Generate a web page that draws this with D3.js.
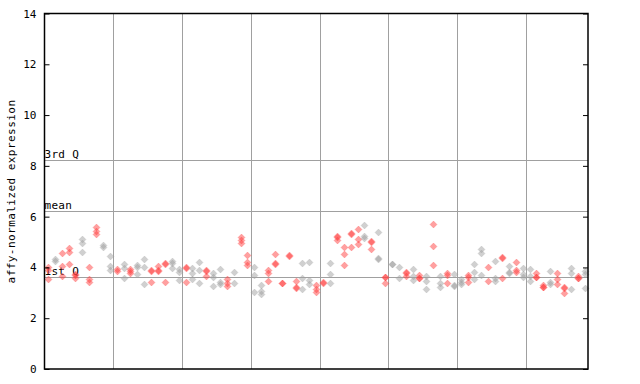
<!DOCTYPE html>
<html><head><meta charset="utf-8">
<script src="https://cdn.jsdelivr.net/npm/d3@7"></script>
<style>body{margin:0;background:#fff}svg{display:block}text{font-family:"DejaVu Sans Mono",monospace}</style>
</head><body><svg id="c" width="640" height="384"></svg>
<script>
// expression values per sample (replicates)
const values = [
[4.03,3.88,3.54],[4.35,4.25],[4.56,4.06,3.67],[4.76,4.6,4.14],[3.74,3.72,3.58],
[5.11,4.96,4.6],[4.01,3.54,3.44],[5.61,5.42,5.32],[4.89,4.8],[4.46,4.07,3.9],
[3.93,3.87],[4.14,3.98,3.58],[3.93,3.85,3.77],[4.1,4.01,3.74],[4.34,4.01,3.34],
[3.9,3.86,3.43],[4.06,3.88,3.86],[4.16,4.12,3.43],[4.27,4.17,3.97],[3.95,3.83,3.51],
[4.0,3.98,3.42],[3.98,3.78,3.54],[4.2,3.9,3.38],[3.9,3.86,3.68],[3.8,3.61,3.27],
[3.93,3.44,3.35],[3.54,3.38,3.27],[3.81,3.4],[5.19,5.09,4.98],[4.5,4.21,4.1],
[4.01,3.7,3.02],[3.31,3.09,2.96],[3.88,3.77,3.46],[4.52,4.16,4.12],[3.39,3.37],
[4.48,4.46],[3.48,3.24,3.2],[4.17,3.58,3.14],[4.2,3.51,3.36],[3.3,3.16,3.02],
[3.41,3.38],[4.17,3.73,3.38],[5.22,5.18,5.07],[4.8,4.52,4.09],[5.36,5.32,4.8],
[5.51,5.13,4.92],[5.66,5.25,5.15],[5.04,5.0,4.72],[5.39,4.36,4.34],[3.64,3.62,3.38],
[4.15,4.13],[4.01,3.58],[3.82,3.78,3.67],[3.94,3.66,3.5],[3.71,3.59,3.57],
[3.65,3.47,3.15],[5.7,4.84,4.09],[3.66,3.37,3.22],[3.78,3.69,3.38],[3.75,3.29,3.27],
[3.54,3.44,3.34],[3.71,3.62,3.44],[4.13,3.81,3.54],[4.73,4.56,3.7],[4.0,3.48],
[4.26,3.58,3.48],[4.42,4.38,3.57],[4.06,3.82,3.8],[4.2,3.9,3.81],[3.97,3.73,3.64],
[3.93,3.67,3.46],[3.79,3.63,3.61],[3.32,3.23,3.21],[3.86,3.44,3.35],[3.79,3.54,3.34],
[3.22,3.2,2.98],[3.97,3.77,3.14],[3.67,3.59,3.57],[3.86,3.75,3.18]
];
// 1 = grey sample, 0 = red sample
const greyFlags = [0,1,0,0,0,1,0,0,1,1, 0,1,0,1,1,0,0,0,1,1, 0,1,1,0,1,1,0,1,0,0,
 1,1,0,0,0,0,0,1,1,0, 0,1,0,0,0,0,1,0,1,0, 1,1,0,1,0,1,0,1,0,1,
 1,0,1,1,0,1,0,1,0,1, 1,0,0,1,0,0,1,0,1];
const refLines = [{label:"3rd Q", v:8.23},{label:"mean", v:6.22},{label:"1st Q", v:3.63}];
const yTicks = [0,2,4,6,8,10,12,14];
const yLabel = "affy-normalized expression";

const svg = d3.select("#c");
const L=44.5, R=588, T=13.5, B=369;
const x = d3.scaleLinear().domain([0, values.length]).range([L, R]);
const y = d3.scaleLinear().domain([0, 14]).range([B, T]);

const defs = svg.append("defs");
[["red","#ff4040"],["grey","#a0a0a0"]].forEach(([id,c])=>{
  const p = defs.append("pattern").attr("id","pat-"+id).attr("patternUnits","userSpaceOnUse")
    .attr("width",2).attr("height",2);
  p.append("rect").attr("x",0).attr("y",0).attr("width",1).attr("height",1).attr("fill",c);
  p.append("rect").attr("x",1).attr("y",1).attr("width",1).attr("height",1).attr("fill",c);
});

// vertical grid
const gridX = d3.range(10, values.length, 10);
svg.append("g").selectAll("line").data(gridX).join("line")
  .attr("x1",d=>Math.round(x(d))+0.5).attr("x2",d=>Math.round(x(d))+0.5)
  .attr("y1",T).attr("y2",B).attr("stroke","#a0a0a0").attr("stroke-width",1);
// reference lines
svg.append("g").selectAll("line").data(refLines).join("line")
  .attr("x1",L).attr("x2",R).attr("y1",d=>Math.round(y(d.v))+0.5).attr("y2",d=>Math.round(y(d.v))+0.5)
  .attr("stroke","#a0a0a0").attr("stroke-width",1);
svg.append("g").selectAll("text").data(refLines).join("text")
  .attr("x",L).attr("y",d=>Math.round(y(d.v))-2).attr("font-size",11).attr("letter-spacing",0.3)
  .attr("fill","#000").text(d=>d.label);

// points
const pts = [];
values.forEach((arr,i)=>arr.forEach(v=>pts.push({i,v,g:greyFlags[i]})));
const dia = "M0,-3.5L3.5,0L0,3.5L-3.5,0Z";
svg.append("g").selectAll("path").data(pts).join("path")
  .attr("d",dia)
  .attr("transform",d=>`translate(${Math.round(x(d.i+0.5))+0.5},${Math.round(y(d.v))+0.5})`)
  .attr("fill",d=>d.g?"url(#pat-grey)":"url(#pat-red)")
  .attr("stroke",d=>d.g?"#a0a0a0":"#ff4040").attr("stroke-width",0.5).attr("stroke-opacity",0.45);

// axes
const yl = d3.axisLeft(y).tickValues(yTicks).tickSizeInner(-5).tickSizeOuter(0).tickPadding(8);
const ga = svg.append("g").attr("transform",`translate(${L},0)`).call(yl);
ga.selectAll("text").attr("font-size",11).attr("font-family","DejaVu Sans Mono").attr("fill","#000");
ga.selectAll("line").attr("stroke","#000");
ga.select(".domain").remove();
const yr = d3.axisRight(y).tickValues(yTicks).tickSizeInner(-5).tickSizeOuter(0).tickFormat("");
const gr = svg.append("g").attr("transform",`translate(${R},0)`).call(yr);
gr.select(".domain").remove();
gr.selectAll("line").attr("stroke","#000");

svg.append("rect").attr("x",L).attr("y",T).attr("width",R-L).attr("height",B-T)
  .attr("fill","none").attr("stroke","#000").attr("stroke-width",1.5);

svg.append("text").attr("transform",`translate(15,${(100+283)/2}) rotate(-90)`)
  .attr("text-anchor","middle").attr("font-size",11).attr("letter-spacing",0.45).text(yLabel);
</script></body></html>
